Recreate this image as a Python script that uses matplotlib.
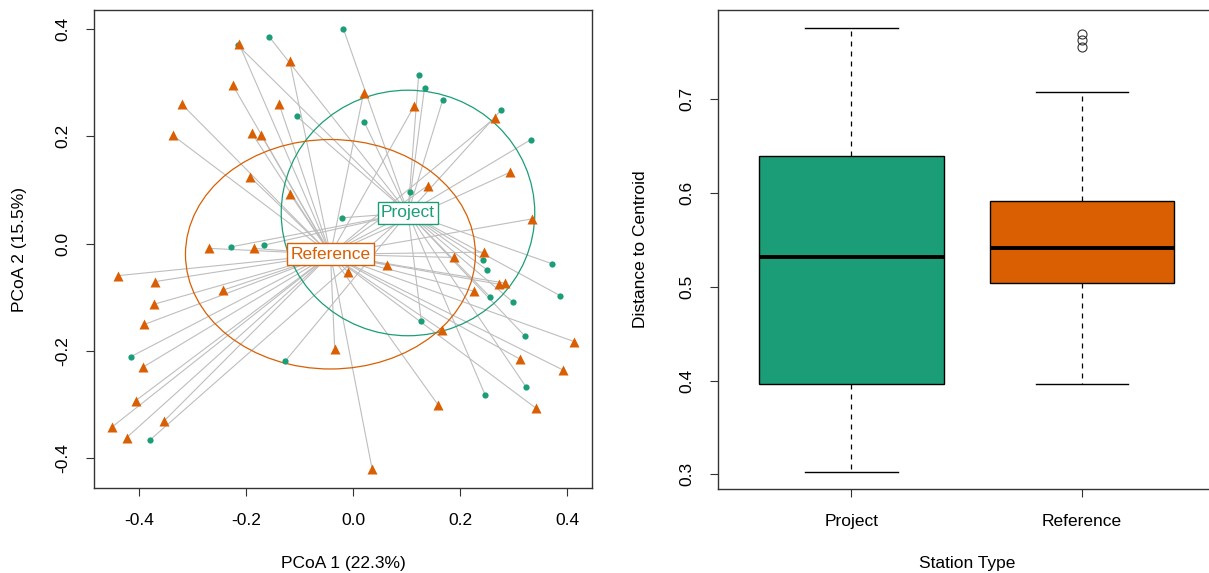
import numpy as np
import matplotlib.pyplot as plt
from matplotlib.patches import Ellipse

plt.rcParams["font.family"] = ["Liberation Sans", "DejaVu Sans"]
plt.rcParams["axes.unicode_minus"] = False

# ── PCoA scores (axis 1, axis 2) ──────────────────────────────────────────────
proj_x = [-0.019, -0.157, -0.216, -0.106, -0.021, -0.228, -0.167, -0.416, -0.381,
          -0.128, 0.122, 0.133, 0.167, 0.276, 0.020, 0.332, 0.106, 0.243, 0.372,
          0.250, 0.386, 0.256, 0.298, 0.127, 0.320, 0.323, 0.246]
proj_y = [0.401, 0.385, 0.370, 0.237, 0.048, -0.006, -0.003, -0.211, -0.367,
          -0.220, 0.315, 0.291, 0.268, 0.249, 0.227, 0.194, 0.096, -0.030, -0.038,
          -0.049, -0.097, -0.100, -0.109, -0.145, -0.172, -0.268, -0.282]

ref_x = [-0.214, -0.119, -0.226, -0.321, -0.139, -0.338, -0.190, -0.173, -0.193,
         -0.118, -0.270, -0.185, -0.441, -0.371, -0.244, -0.372, -0.391, -0.394,
         -0.407, -0.354, -0.451, -0.424, -0.035, -0.010, 0.019, 0.114, 0.265,
         0.293, 0.139, 0.334, 0.245, 0.188, 0.062, 0.272, 0.284, 0.226, 0.166,
         0.413, 0.312, 0.392, 0.159, 0.341, 0.035]
ref_y = [0.373, 0.340, 0.296, 0.260, 0.260, 0.202, 0.206, 0.203, 0.124,
         0.092, -0.009, -0.009, -0.060, -0.071, -0.087, -0.113, -0.151, -0.231,
         -0.293, -0.331, -0.342, -0.362, -0.197, -0.053, 0.281, 0.257, 0.235,
         0.133, 0.108, 0.046, -0.016, -0.026, -0.040, -0.076, -0.074, -0.089, -0.162,
         -0.183, -0.216, -0.236, -0.302, -0.307, -0.421]

group_names = ["Project", "Reference"]
cent_x = [0.102, -0.043]
cent_y = [0.057, -0.020]
ell_w = [0.474, 0.542]
ell_h = [0.458, 0.428]

# ── distance to centroid summaries ────────────────────────────────────────────
whislo = [0.303, 0.396]
q1 = [0.396, 0.504]
med = [0.532, 0.541]
q3 = [0.639, 0.591]
whishi = [0.776, 0.707]
fliers = [[], [0.769, 0.763, 0.755]]

GREEN = "#1B9E77"
ORANGE = "#D95F02"
SEG = "#BEBEBE"
SPINE = "#333333"
FS = 12.5

W, H = 1209, 573
fig = plt.figure(figsize=(W / 100, H / 100), dpi=100)
ax1 = fig.add_axes([94 / W, 1 - 488 / H, (592 - 94) / W, (488 - 10) / H])
ax2 = fig.add_axes([717.5 / W, 1 - 489.3 / H, (1216 - 717.5) / W, (489.3 - 10) / H])

# ── left: ordination ──────────────────────────────────────────────────────────
cols = [GREEN, ORANGE]
xs = [proj_x, ref_x]
ys = [proj_y, ref_y]
for g in range(2):
    for x, y in zip(xs[g], ys[g]):
        ax1.plot([x, cent_x[g]], [y, cent_y[g]], color=SEG, lw=0.8, zorder=1)
for g in range(2):
    ax1.add_patch(Ellipse((cent_x[g], cent_y[g]), ell_w[g], ell_h[g], fill=False,
                          edgecolor=cols[g], lw=0.9, zorder=2))
ax1.plot(proj_x, proj_y, "o", color=GREEN, ms=4.5, mec="none", zorder=3)
ax1.plot(ref_x, ref_y, "^", color=ORANGE, ms=6.5, mec="none", zorder=3)
for g in range(2):
    ax1.text(cent_x[g], cent_y[g], group_names[g], color=cols[g], fontsize=12.5,
             ha="center", va="center", zorder=4,
             bbox=dict(boxstyle="square,pad=0.2", fc="white", ec=cols[g], lw=1.0))

ax1.set_xlim(-0.485, 0.446)
ax1.set_ylim(-0.456, 0.4356)
ax1.set_xticks([-0.4, -0.2, 0.0, 0.2, 0.4])
ax1.set_yticks([-0.4, -0.2, 0.0, 0.2, 0.4])
ax1.set_xticklabels([f"{v:.1f}" for v in ax1.get_xticks()])
ax1.set_yticklabels([f"{v:.1f}" for v in ax1.get_yticks()])
ax1.text(0.5, -0.157, "PCoA 1 (22.3%)", transform=ax1.transAxes,
         ha="center", va="center", fontsize=FS)
ax1.text(-0.1486, 0.5, "PCoA 2 (15.5%)", transform=ax1.transAxes,
         ha="center", va="center", rotation=90, fontsize=FS)

# ── right: boxplot ────────────────────────────────────────────────────────────
stats = [dict(label=group_names[i], whislo=whislo[i], q1=q1[i], med=med[i],
              q3=q3[i], whishi=whishi[i], fliers=fliers[i]) for i in range(2)]
bp = ax2.bxp(stats, positions=[1, 2], widths=0.8, patch_artist=True,
             boxprops=dict(edgecolor="black", lw=1.0),
             medianprops=dict(color="black", lw=2.8, solid_capstyle="butt"),
             whiskerprops=dict(color="black", lw=0.9, ls=(0, (4, 4))),
             capprops=dict(color="black", lw=1.0),
             flierprops=dict(marker="o", mfc="none", mec="#333333", ms=6.5, mew=0.8),
             capwidths=0.4)
for patch, c in zip(bp["boxes"], cols):
    patch.set_facecolor(c)

lo = min(whislo)
hi = max(max(whishi), max(max(f) for f in fliers if f))
pad = 0.04 * (hi - lo)
ax2.set_ylim(lo - pad, hi + pad)
ax2.set_xlim(0.42, 2.58)
ax2.set_xticks([1, 2])
ax2.set_xticklabels(group_names)
ax2.set_yticks([0.3, 0.4, 0.5, 0.6, 0.7])
ax2.set_yticklabels([f"{v:.1f}" for v in ax2.get_yticks()])
ax2.text(0.5, -0.154, "Station Type", transform=ax2.transAxes,
         ha="center", va="center", fontsize=FS)
ax2.text(-0.1535, 0.5, "Distance to Centroid", transform=ax2.transAxes,
         ha="center", va="center", rotation=90, fontsize=FS)

for ax in (ax1, ax2):
    for sp in ax.spines.values():
        sp.set_color(SPINE)
        sp.set_linewidth(1.0)
    ax.tick_params(length=6, width=0.8, color=SPINE, labelsize=FS)
    ax.tick_params(axis="x", pad=12)
    ax.tick_params(axis="y", pad=11, labelrotation=90)
    for lab in ax.get_yticklabels():
        lab.set_va("center")

fig.savefig("out.png", dpi=100)
